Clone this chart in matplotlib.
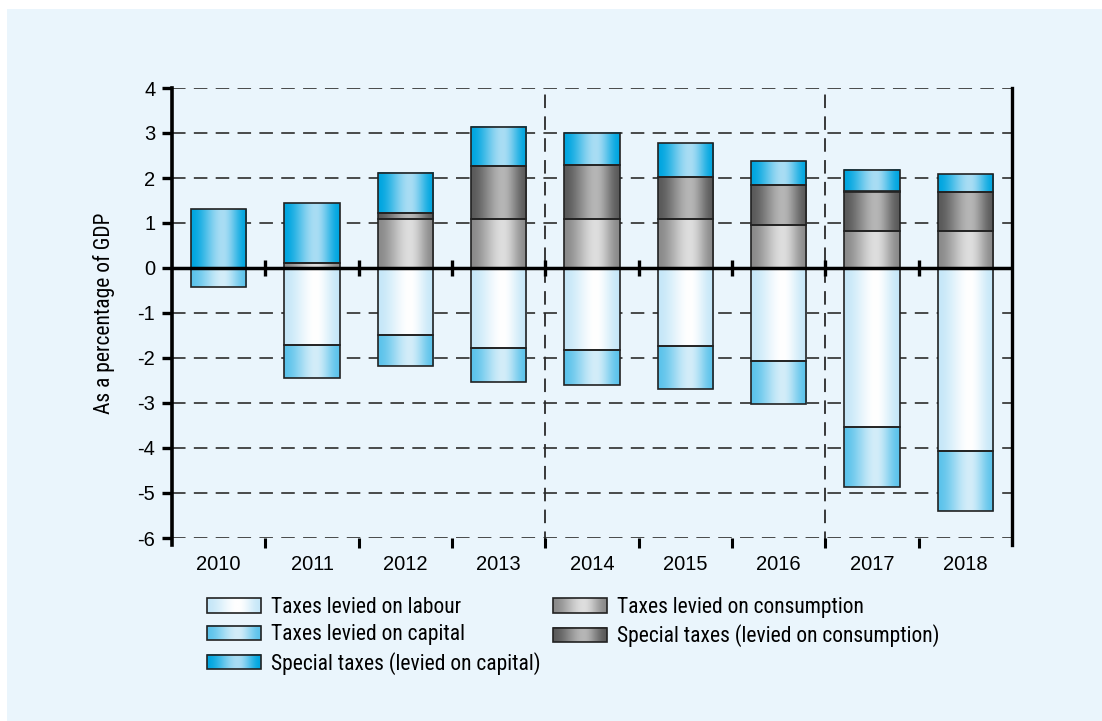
import numpy as np
import matplotlib
matplotlib.use("Agg")
import matplotlib.pyplot as plt
from matplotlib import font_manager
from matplotlib.patches import Rectangle
from matplotlib.legend_handler import HandlerBase
from matplotlib.image import BboxImage
from matplotlib.transforms import Bbox, TransformedBbox
from matplotlib.colors import to_rgb

# ---- data (percentage of GDP) ----
years = ["2010", "2011", "2012", "2013", "2014", "2015", "2016", "2017", "2018"]
labour = [0.0, -1.71, -1.48, -1.77, -1.82, -1.73, -2.06, -3.54, -4.07]
capital = [-0.43, -0.73, -0.70, -0.77, -0.78, -0.95, -0.97, -1.32, -1.34]
consumption = [0.0, 0.12, 1.09, 1.09, 1.09, 1.09, 0.96, 0.83, 0.83]
special_consumption = [0.0, 0.0, 0.14, 1.17, 1.19, 0.94, 0.89, 0.87, 0.85]
special_capital = [1.30, 1.33, 0.89, 0.87, 0.73, 0.74, 0.52, 0.47, 0.40]

labels = {
    "labour": "Taxes levied on labour",
    "capital": "Taxes levied on capital",
    "special_capital": "Special taxes (levied on capital)",
    "consumption": "Taxes levied on consumption",
    "special_consumption": "Special taxes (levied on consumption)",
}

# edge colour, centre colour of the horizontal shading of each series
shades = {
    "labour": ("#c6e7f8", "#ffffff"),
    "capital": ("#5cc3eb", "#d3edf9"),
    "special_capital": ("#00a6e0", "#a9ddf4"),
    "consumption": ("#8a8a8a", "#dedede"),
    "special_consumption": ("#5a5a5a", "#b6b6b6"),
}

PANEL = "#eaf5fc"
EDGE = "#222222"
REGULAR = ["Liberation Sans", "DejaVu Sans"]

# a condensed face for legend and axis title, if one is installed
installed = {f.name for f in font_manager.fontManager.ttflist}
condensed = [n for n in ("Roboto Condensed", "Liberation Sans Narrow",
                         "Open Sans Condensed", "DejaVu Sans Condensed")
             if n in installed]
if condensed:
    NARROW = [condensed[0], "Liberation Sans"]
    narrow_size = 15.5
else:
    NARROW = REGULAR
    narrow_size = 14


def gradient(edge, centre, n=256, peak=0.57):
    t = np.linspace(0, 1, n)
    w = np.where(t < peak, t / peak, (1 - t) / (1 - peak))
    w = w * w * (3 - 2 * w)
    e = np.array(to_rgb(edge))
    c = np.array(to_rgb(centre))
    row = e[None, :] + (c - e)[None, :] * w[:, None]
    return row[None, :, :]


fig = plt.figure(figsize=(11.02, 7.21), dpi=100)
fig.patch.set_facecolor("white")
fig.patches.append(Rectangle((7 / 1102, 0), 1 - 7 / 1102, 1 - 9 / 721,
                             transform=fig.transFigure, facecolor=PANEL,
                             edgecolor="none", zorder=-10))

ax = fig.add_axes([172 / 1102, 1 - 538 / 721, 840 / 1102, 450 / 721])
ax.set_facecolor(PANEL)

x = np.arange(len(years))
width = 0.59

labour_a = np.array(labour)
capital_a = np.array(capital)
cons_a = np.array(consumption)
scons_a = np.array(special_consumption)
scap_a = np.array(special_capital)

segments = [
    ("labour", labour_a, np.zeros_like(labour_a)),
    ("capital", capital_a, labour_a),
    ("consumption", cons_a, np.zeros_like(cons_a)),
    ("special_consumption", scons_a, cons_a),
    ("special_capital", scap_a, cons_a + scons_a),
]

for key, h, b in segments:
    bars = ax.bar(x, h, bottom=b, width=width, facecolor="none",
                  edgecolor=EDGE, linewidth=1.2, zorder=4)
    grad = gradient(*shades[key])
    for patch, val in zip(bars.patches, h):
        if val == 0:
            patch.set_visible(False)
            continue
        x0, y0 = patch.get_x(), patch.get_y()
        w, hh = patch.get_width(), patch.get_height()
        ax.imshow(grad, extent=[x0, x0 + w, min(y0, y0 + hh), max(y0, y0 + hh)],
                  aspect="auto", interpolation="bilinear", zorder=3)

# grid lines
for yv in [-6, -5, -4, -3, -2, -1, 1, 2, 3, 4]:
    ax.axhline(yv, color="#3c3c3c", linewidth=1.3, dashes=(7.5, 4.6), zorder=1)
for xv in [3.5, 6.5]:
    ax.plot([xv, xv], [-6.15, 4], color="#2a2a2a", linewidth=1.3,
            dashes=(7.5, 4.6), zorder=1, clip_on=False)

# zero line with short crossing ticks at the year boundaries
ax.axhline(0, color="black", linewidth=2.5, zorder=5)
bounds = np.arange(0.5, len(years) - 0.5, 1)
ax.plot(bounds, np.zeros_like(bounds), linestyle="none", marker="|",
        markersize=11, markeredgewidth=2.4, color="black", zorder=5)

ax.set_xlim(-0.5, 8.5)
ax.set_ylim(-6, 4)

for s in ("top", "bottom"):
    ax.spines[s].set_visible(False)
ax.spines["left"].set_linewidth(2.6)
ax.spines["right"].set_linewidth(2.4)
for s in ("left", "right"):
    ax.spines[s].set_bounds(-6.15, 4)

ax.set_yticks(np.arange(-6, 5, 1))
ax.set_yticklabels([str(v) for v in range(-6, 5)], family=REGULAR, fontsize=14.5)
ax.tick_params(axis="y", direction="out", length=7, width=2.4, pad=5,
               colors="black")

ax.set_xticks(x)
ax.set_xticklabels(years, family=REGULAR, fontsize=14.5)
ax.set_xticks(bounds, minor=True)
ax.tick_params(axis="x", which="major", length=0, pad=12)
ax.tick_params(axis="x", which="minor", bottom=True, top=False, length=7,
               width=2.2, direction="out")

ax.set_ylabel("As a percentage of GDP", family=NARROW, fontsize=narrow_size,
              labelpad=16)


class GradientHandler(HandlerBase):
    def __init__(self, key):
        super().__init__()
        self.key = key

    def create_artists(self, legend, orig_handle, xdescent, ydescent,
                       width, height, fontsize, trans):
        bb = TransformedBbox(Bbox.from_bounds(-xdescent, -ydescent, width, height), trans)
        img = BboxImage(bb, interpolation="bilinear")
        img.set_data(gradient(*shades[self.key]))
        rect = Rectangle((-xdescent, -ydescent), width, height, facecolor="none",
                         edgecolor=EDGE, linewidth=1.2, transform=trans)
        return [img, rect]


order = ["labour", "capital", "special_capital", "consumption", "special_consumption"]
handles = [Rectangle((0, 0), 1, 1) for _ in order]
fs_px = narrow_size / 72 * 100
leg = fig.legend(handles, [labels[k] for k in order],
                 handler_map={h: GradientHandler(k) for h, k in zip(handles, order)},
                 loc="upper left", bbox_to_anchor=(207 / 1102, 1 - 597 / 721),
                 ncol=2, frameon=False, borderpad=0, borderaxespad=0,
                 handlelength=54 / fs_px, handleheight=14 / fs_px,
                 handletextpad=10 / fs_px, columnspacing=12 / fs_px,
                 labelspacing=0.3,
                 prop={"family": NARROW, "size": narrow_size})

fig.savefig("out.png", dpi=100, facecolor=fig.get_facecolor())
